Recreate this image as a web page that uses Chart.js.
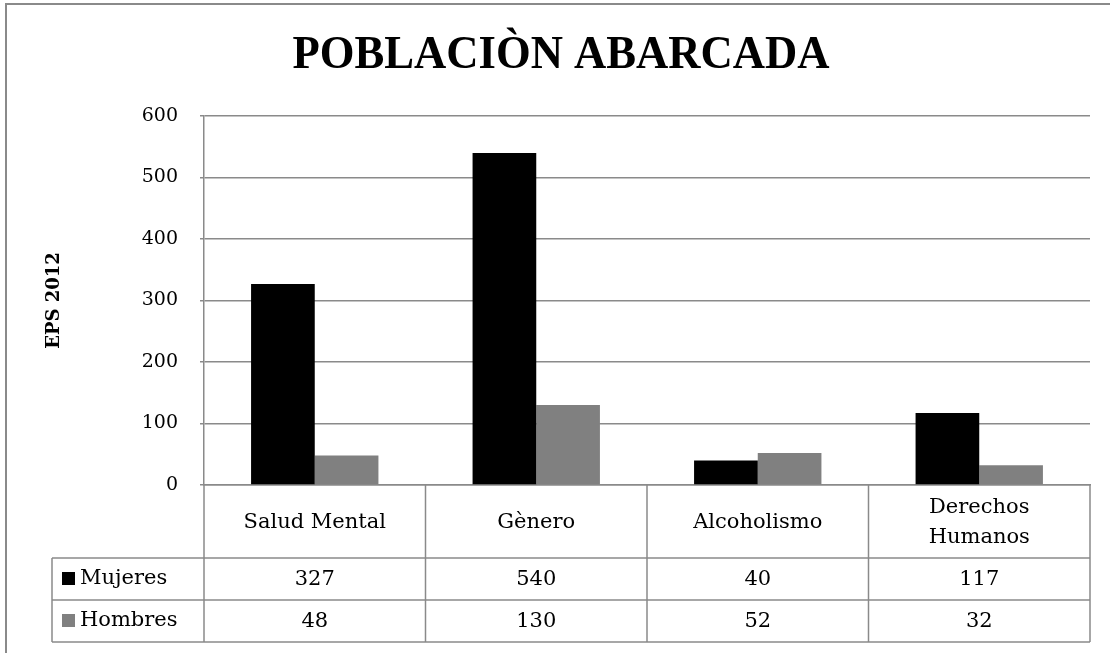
<!DOCTYPE html>
<html>
<head>
<meta charset="utf-8">
<script src="https://cdn.jsdelivr.net/npm/chart.js@4"></script>
<style>
html,body{margin:0;padding:0;background:#fff;}
#wrap{position:relative;width:1110px;height:653px;}
</style>
</head>
<body>
<div id="wrap"><canvas id="c" width="1110" height="653"></canvas></div>
<script>
const chartTitle = "POBLACIÒN ABARCADA";
const yAxisTitle = "EPS 2012";
const categories = ["Salud Mental", "Gènero", "Alcoholismo", ["Derechos", "Humanos"]];
const seriesNames = ["Mujeres", "Hombres"];
const mujeres = [327, 540, 40, 117];
const hombres = [48, 130, 52, 32];
const seriesColors = ["#000000", "#808080"];
const yTicks = [0, 100, 200, 300, 400, 500, 600];

const FONT = "'DejaVu Serif', 'Liberation Serif', serif";
const LINE = "#8a8a8a";

const tablePlugin = {
  id: 'tablePlugin',
  afterDraw(chart) {
    const ctx = chart.ctx;
    const area = chart.chartArea;
    const xs = chart.scales.x;
    const n = categories.length;
    const cw = (area.right - area.left) / n;
    const top = area.bottom;
    const headerBottom = top + 73;
    const row1Bottom = headerBottom + 42;
    const row2Bottom = row1Bottom + 42;
    const legendLeft = 52;
    ctx.save();
    // outer border
    ctx.strokeStyle = LINE;
    ctx.lineWidth = 2;
    ctx.beginPath();
    ctx.moveTo(6, 660); ctx.lineTo(6, 4); ctx.lineTo(1120, 4);
    ctx.stroke();
    // title
    ctx.fillStyle = "#000";
    ctx.textAlign = 'center';
    ctx.textBaseline = 'alphabetic';
    ctx.font = "bold 47px 'Liberation Serif', serif";
    ctx.save();
    ctx.translate(561, 68);
    ctx.scale(0.95, 1);
    ctx.fillText(chartTitle, 0, 0);
    ctx.restore();
    // table lines
    ctx.lineWidth = 1.5;
    ctx.strokeStyle = LINE;
    ctx.beginPath();
    for (let i = 0; i <= n; i++) {
      const x = area.left + i * cw;
      ctx.moveTo(x, top); ctx.lineTo(x, row2Bottom);
    }
    ctx.moveTo(legendLeft, headerBottom); ctx.lineTo(area.right, headerBottom);
    ctx.moveTo(legendLeft, row1Bottom); ctx.lineTo(area.right, row1Bottom);
    ctx.moveTo(legendLeft, row2Bottom); ctx.lineTo(area.right, row2Bottom);
    ctx.moveTo(legendLeft, headerBottom); ctx.lineTo(legendLeft, row2Bottom);
    ctx.stroke();
    // header labels
    ctx.fillStyle = "#000";
    ctx.font = "21px " + FONT;
    ctx.textBaseline = 'middle';
    ctx.textAlign = 'center';
    categories.forEach((c, i) => {
      const cx = xs.getPixelForValue(i);
      const lines = Array.isArray(c) ? c : [c];
      const lh = 30;
      const cy = (top + headerBottom) / 2 + 1;
      lines.forEach((t, k) => {
        ctx.fillText(t, cx, cy + (k - (lines.length - 1) / 2) * lh);
      });
    });
    // rows
    const rows = [mujeres, hombres];
    const rowTops = [headerBottom, row1Bottom];
    rows.forEach((vals, r) => {
      const cy = rowTops[r] + 21;
      ctx.fillStyle = seriesColors[r];
      ctx.fillRect(62, cy - 7, 13, 13);
      ctx.fillStyle = "#000";
      ctx.textAlign = 'left';
      ctx.fillText(seriesNames[r], 80, cy);
      ctx.textAlign = 'center';
      vals.forEach((v, i) => {
        ctx.fillText(String(v), xs.getPixelForValue(i), cy + 1);
      });
    });
    ctx.restore();
  }
};

new Chart(document.getElementById('c'), {
  type: 'bar',
  data: {
    labels: categories.map(c => Array.isArray(c) ? c.join(' ') : c),
    datasets: [
      { label: seriesNames[0], data: mujeres, backgroundColor: seriesColors[0], borderWidth: 0 },
      { label: seriesNames[1], data: hombres, backgroundColor: seriesColors[1], borderWidth: 0 }
    ]
  },
  options: {
    responsive: false,
    animation: false,
    layout: { padding: { left: 0, right: 20, top: 116, bottom: 0 } },
    plugins: { legend: { display: false }, title: { display: false }, tooltip: { enabled: false } },
    datasets: { bar: { categoryPercentage: 0.575, barPercentage: 1.0 } },
    scales: {
      x: {
        grid: { display: false },
        border: { display: true, color: LINE, width: 1.5 },
        ticks: { display: false },
        afterFit(s) { s.height = 168; }
      },
      y: {
        min: 0, max: 600,
        afterBuildTicks(s) { s.ticks = yTicks.map(v => ({ value: v })); },
        grid: { color: LINE, lineWidth: 1.5, tickLength: 4 },
        border: { display: true, color: LINE, width: 1.5 },
        ticks: { color: '#000', padding: 22, font: { family: FONT, size: 19 } },
        title: { display: true, text: yAxisTitle, color: '#000', font: { family: FONT, size: 18, weight: 'bold' }, padding: { top: 44 } },
        afterFit(s) { s.width = 204; }
      }
    }
  },
  plugins: [tablePlugin]
});
</script>
</body>
</html>
